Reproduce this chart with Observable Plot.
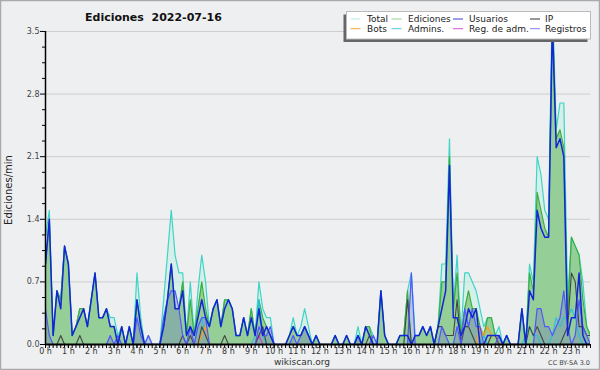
<!DOCTYPE html>
<html><head><meta charset="utf-8">
<script src="https://cdn.jsdelivr.net/npm/d3@7"></script>
<script src="https://cdn.jsdelivr.net/npm/@observablehq/plot@0.6"></script>
<style>html,body{margin:0;padding:0;background:#eeeff1;} svg{display:block}</style>
</head><body><div id="chart"></div>
<script>
// 144 bins of 10 minutes, edits per minute
const hourLabels = d3.range(24).map(h => h + " h");
const yTicks = [0, 0.7, 1.4, 2.1, 2.8, 3.5];
const yMinorTicks = [0.175,0.35,0.525,0.875,1.05,1.225,1.575,1.75,1.925,2.275,2.45,2.625,2.975,3.15,3.325];

const total = [
 1.2,1.5,0.1,0.6,0.5,1.1, 0.9,0.1,0.2,0.4,0.4,0.2, 0.5,0.8,0.3,0.3,0.4,0.3, 0.3,0.1,0.2,0,0.2,0,
 0.8,0.3,0,0.1,0,0, 0,0.5,1.0,1.5,1.0,0.8, 0.8,0.1,0.7,0.1,0.6,1.0, 0.7,0.2,0.4,0.5,0.2,0.5,
 0.5,0.4,0.1,0.1,0.3,0.1, 0.4,0.1,0.7,0.4,0.3,0.3, 0,0,0,0,0.1,0.3, 0.1,0.2,0.4,0.2,0,0.1,
 0,0,0,0,0.1,0, 0,0.1,0,0,0.2,0, 0.2,0.2,0.1,0,0.6,0.1, 0,0,0,0.1,0.1,0.6,
 0.8,0.1,0.1,0.2,0.1,0.2, 0,0.2,0.9,0.9,2.3,0.4, 1.0,0.1,0.8,0.8,0.7,0.6, 0.4,0.2,0.3,0.3,0.1,0.2,
 0,0.1,0,0,0,0.4, 0,0.9,0.7,2.1,1.9,1.5, 1.4,3.9,2.4,2.7,2.7,0.5, 1.2,1.1,1.0,0.7,0.2,0.1
];
const ediciones = [
 0.9,1.4,0.1,0.6,0.5,1.1, 0.9,0.1,0.2,0.4,0.4,0.2, 0.5,0.8,0.3,0.3,0.4,0.2, 0.2,0,0.2,0,0.2,0,
 0.5,0.2,0,0,0,0, 0,0.2,0.5,0.9,0.4,0.4, 0.7,0.1,0.5,0.1,0.4,0.7, 0.4,0.2,0.4,0.5,0.2,0.5,
 0.5,0.4,0.1,0.1,0.3,0.1, 0.4,0.1,0.5,0.3,0.2,0.1, 0,0,0,0,0.1,0.2, 0.1,0.1,0.2,0.1,0,0.1,
 0,0,0,0,0.1,0, 0,0.1,0,0,0.1,0, 0.2,0.2,0,0,0.6,0.1, 0,0,0,0.1,0.1,0.6,
 0,0.1,0.1,0.2,0.1,0.2, 0,0.2,0.7,0.7,2.1,0.4, 0.8,0.1,0.4,0.6,0.4,0.4, 0.2,0.1,0.3,0.3,0.1,0.1,
 0,0.1,0,0,0,0.4, 0,0.8,0.6,1.7,1.5,1.3, 1.2,3.7,2.3,2.4,2.2,0.3, 1.2,1.1,1.0,0.5,0.2,0.1
];
const usuarios = [
 0.9,1.4,0.1,0.6,0.4,1.1, 0.9,0.1,0.2,0.3,0.4,0.2, 0.5,0.8,0.3,0.3,0.4,0.2, 0.2,0,0.2,0,0.2,0,
 0.5,0.2,0,0,0,0, 0,0.2,0.5,0.9,0.4,0.4, 0.6,0.1,0.2,0.1,0.3,0.5, 0.3,0.2,0.4,0.5,0.2,0.4,
 0.5,0.4,0.1,0.1,0.3,0.1, 0.3,0.1,0.4,0.1,0.2,0.1, 0,0,0,0,0.1,0.2, 0.1,0.1,0.2,0.1,0,0.1,
 0,0,0,0,0.1,0, 0,0.1,0,0,0.1,0, 0.2,0.1,0,0,0.6,0.1, 0,0,0,0.1,0.1,0.1,
 0,0.1,0.1,0.2,0.1,0.2, 0,0.2,0.4,0.6,2.0,0.3, 0.3,0.1,0.2,0.4,0.3,0.4, 0,0,0.1,0.1,0.1,0.1,
 0,0.1,0,0,0,0.4, 0,0.6,0.5,1.5,1.3,1.2, 1.2,3.6,2.2,2.3,2.1,0.1, 0.3,0.3,0.8,0.1,0,0
];
const ip = [
 0,0,0,0,0.1,0, 0,0,0,0.1,0,0, 0,0,0,0,0,0, 0,0,0,0,0,0,
 0,0,0,0,0,0, 0,0,0,0,0,0, 0.1,0,0.1,0,0,0.2, 0.1,0,0,0,0,0.1,
 0,0,0,0,0,0, 0,0,0.1,0.2,0,0, 0,0,0,0,0,0, 0,0,0,0,0,0,
 0,0,0,0,0,0, 0,0,0,0,0,0, 0,0.1,0,0,0,0, 0,0,0,0,0,0.5,
 0,0,0,0,0,0, 0,0.2,0.2,0.1,0.1,0.1, 0.5,0,0.2,0.2,0.1,0, 0,0,0,0.1,0.1,0,
 0,0,0,0,0,0, 0,0.2,0.1,0.2,0.1,0, 0,0,0,0,0.1,0.2, 0.8,0.7,0.2,0.2,0.1,0.1
];
const registros = [
 0.4,0.1,0,0,0,0, 0,0,0,0,0,0, 0,0,0,0,0,0.1, 0,0.1,0,0,0,0,
 0.3,0.1,0,0.1,0,0, 0,0.3,0.5,0.6,0.6,0.4, 0.1,0,0.2,0,0.2,0.3, 0.3,0,0,0,0,0,
 0,0,0,0,0,0, 0,0,0.2,0.1,0.1,0.2, 0,0,0,0,0,0.1, 0,0.1,0.2,0.1,0,0,
 0,0,0,0,0,0, 0,0,0,0,0.1,0, 0,0,0.1,0,0,0, 0,0,0,0,0,0,
 0.8,0,0,0,0,0, 0,0,0.2,0.1,0,0, 0.2,0,0.4,0.2,0.4,0.2, 0.2,0,0,0,0,0.1,
 0,0,0,0,0,0, 0,0,0,0.4,0.4,0.2, 0.2,0.1,0.2,0.3,0.6,0.2, 0,0.1,0.5,0.2,0.1,0
];
const admins = [
 0,0,0,0,0,0, 0,0,0,0,0,0, 0,0,0,0,0,0, 0,0,0,0,0,0,
 0,0,0,0,0,0, 0,0,0,0,0,0, 0,0,0,0,0.2,0.3, 0.1,0,0,0,0,0,
 0,0,0,0,0,0, 0,0.1,0.5,0.1,0,0, 0,0,0,0,0,0, 0,0,0,0,0,0,
 0,0,0,0,0,0, 0,0,0,0,0.1,0, 0,0,0,0,0,0, 0,0,0,0,0,0,
 0,0,0,0,0,0, 0,0,0,0,0,0, 0,0,0,0,0,0, 0,0.1,0,0,0,0,
 0,0.1,0,0,0,0, 0.1,0.2,0.1,0.1,0,0, 0,0.1,0.3,0.2,0.3,0.3, 0.4,0.3,0.1,0,0,0
];
const bots = [
 0,0,0,0,0,0, 0,0,0,0,0,0, 0,0,0,0,0,0, 0,0,0,0,0,0,
 0,0,0,0,0,0, 0,0,0,0,0,0, 0,0,0,0,0,0.1, 0.2,0,0,0,0,0,
 0,0,0,0,0,0, 0,0,0,0,0,0, 0,0,0,0,0,0, 0,0,0,0,0,0,
 0,0,0,0,0,0, 0,0,0,0,0,0, 0,0,0,0,0,0, 0,0,0,0,0,0,
 0,0,0,0,0,0, 0,0,0,0,0,0, 0,0,0,0,0,0, 0.2,0.1,0.2,0.1,0.1,0,
 0,0,0,0,0,0, 0,0,0,0,0,0, 0,0,0,0,0,0, 0,0,0,0,0,0
];
const regAdm = [
 0,0,0,0,0,0, 0,0,0,0,0,0, 0,0,0,0,0,0, 0,0,0,0,0,0,
 0,0,0,0,0,0, 0,0,0,0,0,0, 0,0,0,0,0,0, 0,0,0,0,0,0,
 0,0,0,0,0,0, 0,0,0.1,0,0,0, 0,0,0,0,0,0, 0,0,0,0,0,0,
 0,0,0,0,0,0, 0,0,0,0,0,0, 0,0,0,0,0,0, 0,0,0,0,0,0,
 0,0,0,0,0,0, 0,0,0,0,0,0, 0,0,0,0,0,0, 0,0,0,0,0,0,
 0,0,0,0,0,0, 0,0,0,0,0,0, 0,0,0,0,0,0, 0,0,0,0,0,0
];

const legendItems = [
  {label: "Total", color: "#b4ebe6", col: 0, row: 0},
  {label: "Ediciones", color: "#8fd08f", col: 1, row: 0},
  {label: "Usuarios", color: "#3a3ad8", col: 2, row: 0},
  {label: "IP", color: "#333333", col: 3, row: 0},
  {label: "Bots", color: "#f5a040", col: 0, row: 1},
  {label: "Admins.", color: "#50c8da", col: 1, row: 1},
  {label: "Reg. de adm.", color: "#d050d8", col: 2, row: 1},
  {label: "Registros", color: "#8080ff", col: 3, row: 1}
];

const idx = d3.range(144);
const font = "'DejaVu Sans', Verdana, sans-serif";
const line = (arr, stroke, w) => Plot.lineY(idx, {x: d => d, y: d => arr[d], stroke, strokeWidth: w, clip: true});

const svg = Plot.plot({
  width: 600, height: 370,
  marginLeft: 45, marginRight: 10, marginTop: 12, marginBottom: 26,
  style: {background: "#eeeff1", fontFamily: font},
  x: {domain: [0, 143], axis: null},
  y: {domain: [0, 3.712], axis: null},
  marks: [
    Plot.ruleY(yTicks.slice(1), {stroke: "#cdcdcd", strokeWidth: 1}),
    Plot.areaY(idx, {x: d => d, y: d => total[d], fill: "#c2f0e2", fillOpacity: 0.55, clip: true}),
    Plot.areaY(idx, {x: d => d, y: d => ediciones[d], fill: "#8fca8f", fillOpacity: 0.9, clip: true}),
    Plot.areaY(idx, {x: d => d, y: d => registros[d], fill: "#5a5ac8", fillOpacity: 0.25, clip: true}),
    line(total, "#3fd4c6", 1.2),
    line(ediciones, "#3cae3c", 1.2),
    line(admins, "#30bde0", 1.2),
    line(bots, "#ff9a20", 1.2),
    line(regAdm, "#d040d0", 1.2),
    line(ip, "#444444", 1.1),
    line(registros, "#5555ff", 1.2),
    line(usuarios, "#1226d8", 1.5),
    Plot.axisY({ticks: yMinorTicks, tickSize: 3, tickFormat: () => "", stroke: "#000"}),
    Plot.axisY({ticks: yTicks, tickSize: 5, tickPadding: 1, tickFormat: d => d.toFixed(1), fontSize: 8, color: "#444", stroke: "#000"}),
    Plot.axisX({ticks: idx, tickSize: 4, tickFormat: () => "", stroke: "#000"}),
    Plot.axisX({ticks: d3.range(0, 144, 6), tickSize: 4, tickPadding: 0, tickFormat: d => hourLabels[d / 6], fontSize: 8, color: "#333", stroke: "#000"}),
    Plot.ruleX([0], {y1: 0, y2: 3.5, stroke: "#000", strokeWidth: 1.5}),
    Plot.ruleY([0], {stroke: "#000", strokeWidth: 2})
  ]
});

const s = d3.select(svg);
s.append("rect").attr("x", 0.5).attr("y", 0.5).attr("width", 599).attr("height", 369)
  .attr("fill", "none").attr("stroke", "#aaaaaa").attr("stroke-width", 1.5);
s.append("text").attr("x", 85).attr("y", 20.5).attr("text-anchor", "start").attr("font-family", font).attr("font-weight", "bold")
  .attr("font-size", 11).attr("fill", "#111").attr("xml:space", "preserve").text("Ediciones  2022-07-16");
s.append("text").attr("transform", "translate(12,190) rotate(-90)").attr("text-anchor", "middle")
  .attr("font-family", font).attr("font-size", 10).attr("fill", "#222").text("Ediciones/min");
s.append("text").attr("x", 302).attr("y", 364.5).attr("text-anchor", "middle").attr("font-family", font)
  .attr("font-size", 9).attr("fill", "#333").text("wikiscan.org");
s.append("text").attr("x", 590).attr("y", 365).attr("text-anchor", "end").attr("font-family", font)
  .attr("font-size", 6.5).attr("fill", "#444").text("CC BY-SA 3.0");

// legend box
const lg = s.append("g").attr("text-anchor", "start");
lg.append("rect").attr("x", 343.5).attr("y", 14.5).attr("width", 244).attr("height", 27.5).attr("fill", "#666");
lg.append("rect").attr("x", 346.5).attr("y", 11.5).attr("width", 244).attr("height", 27.5)
  .attr("fill", "#ffffff").attr("stroke", "#bbbbbb");
const colX = [350.5, 391.5, 453, 530];
const colT = [367, 408, 469, 545];
legendItems.forEach(it => {
  const ly = it.row === 0 ? 19 : 28.7;
  lg.append("line").attr("x1", colX[it.col]).attr("x2", colX[it.col] + 10).attr("y1", ly).attr("y2", ly)
    .attr("stroke", it.color).attr("stroke-width", 1);
  lg.append("text").attr("x", colT[it.col]).attr("y", ly + 3.3).attr("text-anchor", "start").attr("font-family", font)
    .attr("font-size", 9).attr("fill", "#222").text(it.label);
});

document.getElementById("chart").appendChild(svg);
</script>
</body></html>
